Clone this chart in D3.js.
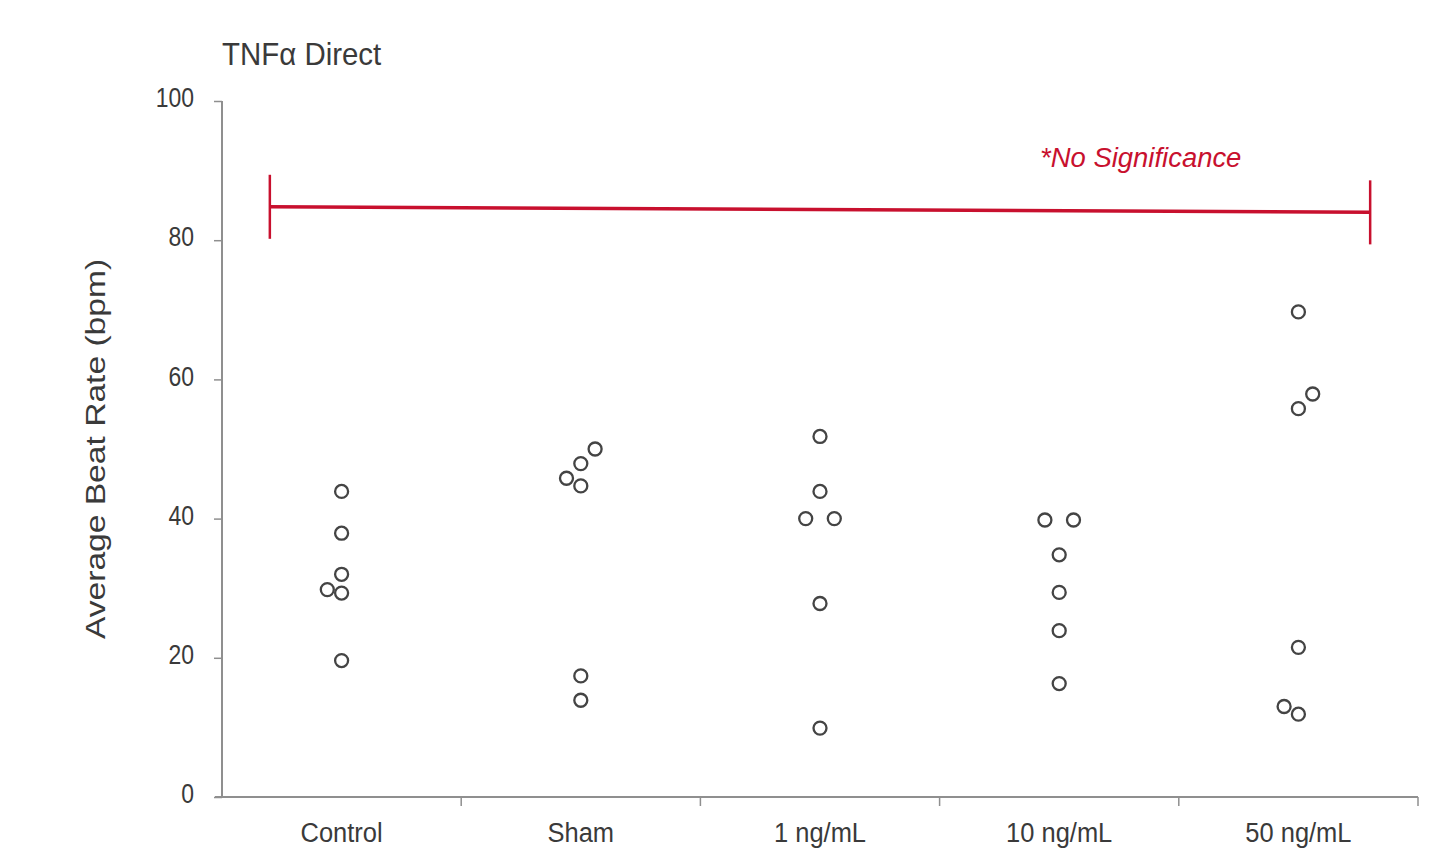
<html>
<head>
  <meta charset="utf-8">
  <title>TNFa Direct</title>
  <script src="https://d3js.org/d3.v7.min.js"></script>
  <style>
    body { margin: 0; background: #fff; }
    text { font-family: "Liberation Sans", Arial, sans-serif; }
  </style>
</head>
<body>
<script>
// data
var groups = ["Control", "Sham", "1 ng/mL", "10 ng/mL", "50 ng/mL"];
var control = [43.9, 37.9, 32.0, 29.8, 29.3, 19.6];
var sham    = [50.0, 47.9, 45.8, 44.7, 17.4, 13.9];
var ng1     = [51.8, 43.9, 40.0, 40.0, 27.8, 9.9];
var ng10    = [39.8, 39.8, 34.8, 29.4, 23.9, 16.3];
var ng50    = [69.7, 57.9, 55.8, 21.5, 13.0, 11.9];
// side-by-side slot of each point (-1 left, 0 centre, 1 right)
var dodge = [
  [0, 0, 0, -1, 0, 0],
  [1, 0, -1, 0, 0, 0],
  [0, 0, -1, 1, 0, 0],
  [-1, 1, 0, 0, 0, 0],
  [0, 1, 0, 0, -1, 0]
];
var yTicks = [0, 20, 40, 60, 80, 100];
var sigLevel = [84.8, 84.0];   // bracket height at left and right end
var sigLabel = "*No Significance";

var width = 1455, height = 854;
var plotLeft = 222, plotRight = 1418, plotTop = 101, plotBottom = 797;

var svg = d3.select("body").append("svg")
  .attr("width", width)
  .attr("height", height);

var x = d3.scaleBand().domain(groups).range([plotLeft, plotRight]).padding(0);
var y = d3.scaleLinear().domain([0, 100]).range([plotBottom, plotTop]);

var allValues = [control, sham, ng1, ng10, ng50];
var points = [];
allValues.forEach(function(vals, gi) {
  vals.forEach(function(v, i) {
    points.push({ group: groups[gi], value: v, slot: dodge[gi][i] });
  });
});

var axisColor = "#8f8f8f", textColor = "#3a3a3a";

// y axis
var yAxis = svg.append("g")
  .attr("transform", "translate(" + plotLeft + ",0)")
  .call(d3.axisLeft(y).tickValues(yTicks).tickSize(8));
yAxis.select(".domain").attr("stroke", axisColor).attr("stroke-width", 2)
  .attr("d", "M0," + plotTop + "V" + plotBottom);
yAxis.selectAll(".tick line").attr("stroke", axisColor).attr("stroke-width", 1.5);
yAxis.selectAll(".tick text")
  .attr("x", null)
  .attr("dy", "0.2em")
  .attr("transform", "translate(-28,0) scale(0.82,1)")
  .attr("fill", textColor)
  .style("font-size", "28px");

// x axis, ticks sit between the groups
var xAxis = svg.append("g")
  .attr("transform", "translate(0," + plotBottom + ")");
xAxis.append("line")
  .attr("x1", plotLeft - 7).attr("x2", plotRight)
  .attr("stroke", axisColor).attr("stroke-width", 2);
xAxis.selectAll(".xtick")
  .data(groups)
  .enter()
  .append("line")
  .attr("x1", d => x(d) + x.bandwidth())
  .attr("x2", d => x(d) + x.bandwidth())
  .attr("y1", 0).attr("y2", 9)
  .attr("stroke", axisColor).attr("stroke-width", 1.5);
xAxis.selectAll(".xlabel")
  .data(groups)
  .enter()
  .append("text")
  .attr("transform", d => "translate(" + (x(d) + x.bandwidth() / 2) + ",45) scale(0.91,1)")
  .attr("text-anchor", "middle")
  .attr("fill", textColor)
  .style("font-size", "28px")
  .text(d => d);

// y label
svg.append("text")
  .attr("transform", "translate(105," + 449 + ") rotate(-90) scale(1.2,1)")
  .attr("text-anchor", "middle")
  .attr("fill", textColor)
  .style("font-size", "28px")
  .text("Average Beat Rate (bpm)");

// title
svg.append("text")
  .attr("transform", "translate(" + plotLeft + ",65) scale(0.92,1)")
  .attr("fill", textColor)
  .style("font-size", "32px")
  .text("TNFα Direct");

// significance bracket
var red = "#c8102e";
var bx0 = x(groups[0]) + x.bandwidth() * 0.2;
var bx1 = x(groups[groups.length - 1]) + x.bandwidth() * 0.8;
var sig = svg.append("g");
sig.append("line")
  .attr("x1", bx0).attr("x2", bx1)
  .attr("y1", y(sigLevel[0])).attr("y2", y(sigLevel[1]))
  .attr("stroke", red).attr("stroke-width", 3.5);
[[bx0, sigLevel[0]], [bx1, sigLevel[1]]].forEach(function(p) {
  sig.append("line")
    .attr("x1", p[0]).attr("x2", p[0])
    .attr("y1", y(p[1] + 4.6)).attr("y2", y(p[1] - 4.6))
    .attr("stroke", red).attr("stroke-width", 2.5);
});
sig.append("text")
  .attr("transform", "translate(" + (x("10 ng/mL") + x.bandwidth() * 0.42) + ",167) scale(0.98,1)")
  .attr("fill", red)
  .style("font-size", "28px")
  .style("font-style", "italic")
  .text(sigLabel);

// points
var step = 14.3;
svg.append("g").selectAll("circle")
  .data(points)
  .enter()
  .append("circle")
  .attr("cx", d => x(d.group) + x.bandwidth() / 2 + d.slot * step)
  .attr("cy", d => y(d.value))
  .attr("r", 6.5)
  .attr("fill", "none")
  .attr("stroke", "#444")
  .attr("stroke-width", 2.3);
</script>
</body>
</html>
